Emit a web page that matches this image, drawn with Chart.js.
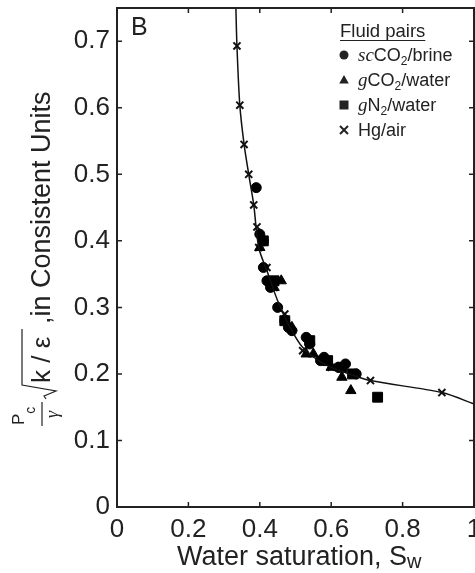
<!DOCTYPE html>
<html>
<head>
<meta charset="utf-8">
<script src="https://cdn.jsdelivr.net/npm/chart.js@4"></script>
<style>
  html, body { margin: 0; padding: 0; background: #fff; overflow: hidden; }
  #box { width: 482px; height: 573px; }
</style>
</head>
<body>
<div id="box"><canvas id="myChart"></canvas></div>
<script>
// tick labels
var xTicks = [0, 0.2, 0.4, 0.6, 0.8, 1];
var yTicks = [0, 0.1, 0.2, 0.3, 0.4, 0.5, 0.6, 0.7];

// series names
var seriesNames = ['scCO2/brine', 'gCO2/water', 'gN2/water', 'Hg/air'];

// scCO2/brine (circles)
var scco2X = [0.39, 0.40, 0.41, 0.41, 0.42, 0.43, 0.45, 0.47, 0.48, 0.49, 0.53, 0.54, 0.57, 0.58, 0.62, 0.64, 0.67];
var scco2Y = [0.48, 0.41, 0.40, 0.36, 0.34, 0.33, 0.30, 0.28, 0.27, 0.265, 0.255, 0.245, 0.22, 0.225, 0.21, 0.215, 0.20];

// gCO2/water (triangles)
var gco2X = [0.40, 0.44, 0.46, 0.49, 0.53, 0.55, 0.60, 0.63, 0.655];
var gco2Y = [0.39, 0.33, 0.34, 0.27, 0.23, 0.23, 0.21, 0.195, 0.175];

// gN2/water (squares)
var gn2X = [0.41, 0.44, 0.47, 0.54, 0.59, 0.63, 0.66, 0.73];
var gn2Y = [0.40, 0.34, 0.28, 0.25, 0.22, 0.21, 0.20, 0.165];

// Hg/air (crosses)
var hgX = [0.336, 0.344, 0.356, 0.369, 0.383, 0.392, 0.397, 0.42, 0.44, 0.47, 0.52, 0.60, 0.71, 0.91];
var hgY = [0.693, 0.604, 0.545, 0.50, 0.454, 0.421, 0.39, 0.36, 0.33, 0.29, 0.235, 0.21, 0.19, 0.172];

// drawn curve through the Hg/air data
var fitX = [0.333, 0.336, 0.344, 0.356, 0.369, 0.383, 0.397, 0.42, 0.45, 0.48, 0.52, 0.58, 0.65, 0.71, 0.91, 1.0];
var fitY = [0.75, 0.693, 0.604, 0.545, 0.50, 0.454, 0.39, 0.355, 0.31, 0.275, 0.24, 0.215, 0.20, 0.19, 0.172, 0.155];

var SANS = '"Liberation Sans", Arial, sans-serif';
var SERIF = '"Liberation Serif", "Times New Roman", serif';

function pts(xs, ys) {
  return xs.map(function (x, i) { return { x: x, y: ys[i] }; });
}

// draw a list of text runs one after another, returns end x
function drawRuns(ctx, x, y, runs) {
  runs.forEach(function (r) {
    ctx.font = r.font;
    ctx.fillText(r.t, x, y + (r.dy || 0));
    x += ctx.measureText(r.t).width;
  });
  return x;
}

function marker(ctx, style, x, y, r) {
  ctx.beginPath();
  if (style === 'circle') {
    ctx.arc(x, y, r, 0, Math.PI * 2);
    ctx.fill();
  } else if (style === 'triangle') {
    ctx.moveTo(x, y - r);
    ctx.lineTo(x + r * 0.95, y + r * 0.7);
    ctx.lineTo(x - r * 0.95, y + r * 0.7);
    ctx.closePath();
    ctx.fill();
  } else if (style === 'rect') {
    ctx.rect(x - r, y - r, 2 * r, 2 * r);
    ctx.fill();
  } else {
    ctx.lineWidth = 2;
    ctx.moveTo(x - r, y - r); ctx.lineTo(x + r, y + r);
    ctx.moveTo(x + r, y - r); ctx.lineTo(x - r, y + r);
    ctx.stroke();
  }
}

var decorPlugin = {
  id: 'decor',
  afterDraw: function (chart) {
    var ctx = chart.ctx;
    var a = chart.chartArea;
    var xs = chart.scales.x, ys = chart.scales.y;
    ctx.save();
    ctx.strokeStyle = '#222';
    ctx.fillStyle = '#222';

    // frame + inward ticks
    ctx.lineWidth = 2;
    ctx.strokeRect(a.left, a.top, a.right - a.left, a.bottom - a.top);
    ctx.lineWidth = 1.5;
    ctx.beginPath();
    xTicks.forEach(function (v) {
      var px = xs.getPixelForValue(v);
      ctx.moveTo(px, a.bottom); ctx.lineTo(px, a.bottom - 5);
      ctx.moveTo(px, a.top); ctx.lineTo(px, a.top + 5);
    });
    yTicks.forEach(function (v) {
      var py = ys.getPixelForValue(v);
      ctx.moveTo(a.left, py); ctx.lineTo(a.left + 5, py);
      ctx.moveTo(a.right, py); ctx.lineTo(a.right - 5, py);
    });
    ctx.stroke();

    // panel letter
    ctx.textBaseline = 'alphabetic';
    ctx.textAlign = 'left';
    ctx.font = '25px ' + SANS;
    ctx.fillText('B', 131, 35);

    // x title
    drawRuns(ctx, 177, 565, [
      { t: 'Water saturation, S', font: '27px ' + SANS },
      { t: 'w', font: '20px ' + SANS, dy: 3 }
    ]);

    // legend
    ctx.font = '18.5px ' + SANS;
    ctx.fillText('Fluid pairs', 340, 37);
    var w = ctx.measureText('Fluid pairs').width;
    ctx.lineWidth = 1;
    ctx.beginPath(); ctx.moveTo(340, 40.5); ctx.lineTo(340 + w, 40.5); ctx.stroke();
    var rows = [
      { style: 'circle', r: 4.5, runs: [{ t: 'sc', font: 'italic 19px ' + SERIF }, { t: 'CO', font: '18px ' + SANS }, { t: '2', font: '12px ' + SANS, dy: 4 }, { t: '/brine', font: '18px ' + SANS }] },
      { style: 'triangle', r: 5, runs: [{ t: 'g', font: 'italic 19px ' + SERIF }, { t: 'CO', font: '18px ' + SANS }, { t: '2', font: '12px ' + SANS, dy: 4 }, { t: '/water', font: '18px ' + SANS }] },
      { style: 'rect', r: 4.5, runs: [{ t: 'g', font: 'italic 19px ' + SERIF }, { t: 'N', font: '18px ' + SANS }, { t: '2', font: '12px ' + SANS, dy: 4 }, { t: '/water', font: '18px ' + SANS }] },
      { style: 'cross', r: 4, runs: [{ t: 'Hg/air', font: '18px ' + SANS }] }
    ];
    rows.forEach(function (row, i) {
      var cy = 55 + i * 25;
      marker(ctx, row.style, 344, cy, row.r);
      drawRuns(ctx, 358, cy + 6, row.runs);
    });

    // y title, rotated
    ctx.translate(50, 428);
    ctx.rotate(-Math.PI / 2);
    ctx.lineWidth = 1.2;
    drawRuns(ctx, 3, -26, [
      { t: 'P', font: '17px ' + SANS },
      { t: 'c', font: '14px ' + SANS, dy: 11 }
    ]);
    ctx.beginPath(); ctx.moveTo(2, -8); ctx.lineTo(26, -8); ctx.stroke();
    ctx.font = 'italic 18px ' + SERIF;
    ctx.fillText('γ', 10, 8);
    ctx.beginPath();
    ctx.moveTo(29, -4); ctx.lineTo(32, -6);
    ctx.lineTo(37, 6); ctx.lineTo(43, -28); ctx.lineTo(99, -28);
    ctx.stroke();
    ctx.font = '26px ' + SANS;
    ctx.fillText('k / ε', 45, 0);
    ctx.font = '27px ' + SANS;
    ctx.fillText(',in Consistent Units', 104, 0);
    ctx.restore();
  }
};

var ctx = document.getElementById('myChart').getContext('2d');

var myChart = new Chart(ctx, {
  type: 'scatter',
  data: {
    datasets: [
      {
        label: 'curve',
        data: pts(fitX, fitY),
        showLine: true,
        borderColor: '#111',
        borderWidth: 1.5,
        pointRadius: 0,
        tension: 0.3
      },
      {
        label: seriesNames[0],
        data: pts(scco2X, scco2Y),
        pointStyle: 'circle',
        pointRadius: 5,
        backgroundColor: '#000',
        borderColor: '#000'
      },
      {
        label: seriesNames[1],
        data: pts(gco2X, gco2Y),
        pointStyle: 'triangle',
        pointRadius: 6,
        backgroundColor: '#000',
        borderColor: '#000'
      },
      {
        label: seriesNames[2],
        data: pts(gn2X, gn2Y),
        pointStyle: 'rect',
        pointRadius: 7,
        backgroundColor: '#000',
        borderColor: '#000'
      },
      {
        label: seriesNames[3],
        data: pts(hgX, hgY),
        pointStyle: 'crossRot',
        pointRadius: 5,
        borderWidth: 2,
        backgroundColor: '#000',
        borderColor: '#111'
      }
    ]
  },
  options: {
    responsive: true,
    maintainAspectRatio: false,
    animation: false,
    layout: { padding: { top: 5, right: 1, left: 0, bottom: 0 } },
    plugins: {
      legend: { display: false },
      tooltip: { enabled: false }
    },
    scales: {
      x: {
        type: 'linear',
        min: 0,
        max: 1,
        grid: { display: false, drawTicks: false },
        border: { display: false },
        afterBuildTicks: function (s) { s.ticks = xTicks.map(function (v) { return { value: v }; }); },
        afterFit: function (s) { s.height = 66; s.paddingLeft = 0; s.paddingRight = 0; },
        ticks: {
          color: '#222',
          padding: 7,
          maxRotation: 0,
          font: { family: SANS, size: 26 },
          callback: function (v) { return String(v); }
        }
      },
      y: {
        type: 'linear',
        min: 0,
        max: 0.75,
        grid: { display: false, drawTicks: false },
        border: { display: false },
        afterBuildTicks: function (s) { s.ticks = yTicks.map(function (v) { return { value: v }; }); },
        afterFit: function (s) { s.width = 117; s.paddingTop = 0; s.paddingBottom = 0; },
        ticks: {
          color: '#222',
          padding: 7,
          font: { family: SANS, size: 26 },
          callback: function (v) { return String(v); }
        }
      }
    }
  },
  plugins: [decorPlugin]
});
</script>
</body>
</html>
